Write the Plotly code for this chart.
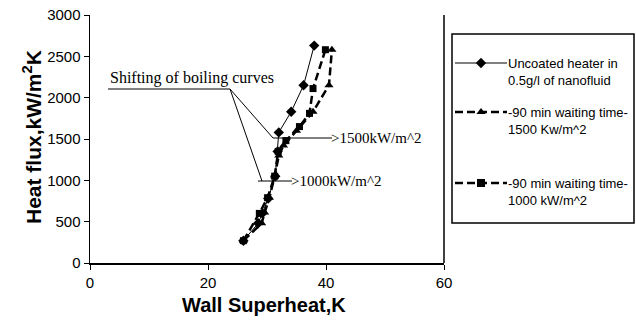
import plotly.graph_objects as go

# ---- data ----
uncoated_x = [26.0, 28.5, 29.2, 30.2, 31.4, 31.8, 32.0, 34.1, 36.2, 38.0]
uncoated_y = [270, 480, 600, 780, 1050, 1350, 1580, 1830, 2150, 2630]

wait1500_x = [26.0, 29.1, 29.6, 30.4, 31.3, 32.0, 32.8, 35.0, 37.8, 40.5, 41.0]
wait1500_y = [270, 480, 610, 790, 1050, 1300, 1420, 1600, 1830, 2150, 2580]

wait1000_x = [26.0, 28.7, 30.1, 31.3, 31.9, 33.2, 35.5, 37.2, 37.8, 39.9]
wait1000_y = [270, 600, 790, 1050, 1350, 1480, 1650, 1810, 2110, 2580]

x_ticks = [0, 20, 40, 60]
y_ticks = [0, 500, 1000, 1500, 2000, 2500, 3000]

legend_names = ["Uncoated heater in<br>0.5g/l of nanofluid",
                "-90 min waiting time-<br>1500 Kw/m^2",
                "-90 min waiting time-<br>1000 kW/m^2"]

# body margin is removed by the post script, so figure pixels == window pixels
W, H = 636, 322
PX0, PX1 = 90, 444      # plot area in pixels
PY0, PY1 = 15, 263

fig = go.Figure()

fig.add_trace(go.Scatter(x=uncoated_x, y=uncoated_y, mode="lines+markers",
                         line=dict(color="black", width=1),
                         marker=dict(symbol="diamond", size=8, color="black"),
                         showlegend=False))
fig.add_trace(go.Scatter(x=wait1500_x, y=wait1500_y, mode="lines+markers",
                         line=dict(color="black", width=2.5, dash="8px,4px"),
                         marker=dict(symbol="triangle-up", size=8, color="black"),
                         showlegend=False))
fig.add_trace(go.Scatter(x=wait1000_x, y=wait1000_y, mode="lines+markers",
                         line=dict(color="black", width=2.5, dash="8px,4px"),
                         marker=dict(symbol="square", size=7, color="black"),
                         showlegend=False))

# ---- legend samples on full-page pixel axes ----
leg_y = [63, 112, 183]
leg_sym = ["diamond", "triangle-up", "square"]
leg_w = [1, 2.5, 2.5]
leg_dash = ["solid", "8px,4px", "8px,4px"]
for i in range(3):
    fig.add_trace(go.Scatter(x=[455, 481, 507], y=[leg_y[i]] * 3, xaxis="x2", yaxis="y2",
                             mode="lines", line=dict(color="black", width=leg_w[i], dash=leg_dash[i]),
                             showlegend=False, hoverinfo="skip"))
    fig.add_trace(go.Scatter(x=[481], y=[leg_y[i]], xaxis="x2", yaxis="y2",
                             mode="markers", marker=dict(symbol=leg_sym[i], size=8, color="black"),
                             showlegend=False, hoverinfo="skip"))

shapes = []
# legend box
shapes.append(dict(type="rect", xref="x2", yref="y2", x0=452, x1=634, y0=34, y1=223,
                   line=dict(color="black", width=1.5), fillcolor="rgba(0,0,0,0)"))
# plot right border
shapes.append(dict(type="line", xref="x2", yref="y2", x0=PX1, x1=PX1, y0=PY0, y1=PY1,
                   line=dict(color="black", width=1.5)))
# annotation lines
for (x0, y0, x1, y1) in [(108, 89, 230, 89), (230, 89, 273, 138), (230, 89, 262, 181),
                         (273, 138, 332, 138), (258, 181, 292, 181)]:
    shapes.append(dict(type="line", xref="x2", yref="y2", x0=x0, y0=y0, x1=x1, y1=y1,
                       line=dict(color="black", width=1)))

annotations = []
for i, name in enumerate(legend_names):
    annotations.append(dict(xref="x2", yref="y2", x=506, y=leg_y[i] + 9, text=name,
                            showarrow=False, xanchor="left", yanchor="middle", align="left",
                            font=dict(family="Liberation Sans, Arial", size=13, color="black")))
annotations.append(dict(xref="x2", yref="y2", x=108, y=78, text="Shifting of boiling curves",
                        showarrow=False, xanchor="left", yanchor="middle",
                        font=dict(family="Liberation Serif, Times New Roman", size=16, color="black")))
annotations.append(dict(xref="x2", yref="y2", x=329, y=138, text=">1500kW/m^2",
                        showarrow=False, xanchor="left", yanchor="middle",
                        font=dict(family="Liberation Serif, Times New Roman", size=15, color="black")))
annotations.append(dict(xref="x2", yref="y2", x=289, y=181, text=">1000kW/m^2",
                        showarrow=False, xanchor="left", yanchor="middle",
                        font=dict(family="Liberation Serif, Times New Roman", size=15, color="black")))
annotations.append(dict(xref="x2", yref="y2", x=264, y=305, text="<b>Wall Superheat,K</b>",
                        showarrow=False, xanchor="center", yanchor="middle",
                        font=dict(family="Liberation Sans, Arial", size=20, color="black")))
annotations.append(dict(xref="x2", yref="y2", x=32, y=137, text="<b>Heat flux,kW/m<sup>2</sup>K</b>",
                        showarrow=False, xanchor="center", yanchor="middle", textangle=-90,
                        font=dict(family="Liberation Sans, Arial", size=21, color="black")))

fig.update_layout(
    width=W, height=H,
    margin=dict(l=0, r=0, t=0, b=0, pad=0, autoexpand=False),
    paper_bgcolor="white", plot_bgcolor="rgba(0,0,0,0)",
    hovermode=False,
    xaxis=dict(domain=[PX0 / W, PX1 / W], range=[0, 60], tickvals=x_ticks, automargin=False,
               ticklabeloverflow="allow",
               showline=True, linecolor="black", linewidth=1.5, ticks="outside", ticklen=5,
               tickcolor="black", showgrid=False, zeroline=False,
               tickfont=dict(family="Liberation Sans, Arial", size=15, color="black")),
    yaxis=dict(domain=[(H - PY1) / H, (H - PY0) / H], range=[0, 3000], tickvals=y_ticks,
               automargin=False, ticklabeloverflow="allow",
               showline=True, linecolor="black", linewidth=1.5, ticks="outside", ticklen=5,
               tickcolor="black", showgrid=False, zeroline=False,
               tickfont=dict(family="Liberation Sans, Arial", size=15, color="black")),
    xaxis2=dict(domain=[0, 1], range=[0, W], visible=False, anchor="y2", automargin=False),
    yaxis2=dict(domain=[0, 1], range=[H, 0], visible=False, anchor="x2", automargin=False),
    shapes=shapes, annotations=annotations,
)

fig.write_html("out.html", config={"displayModeBar": False, "staticPlot": True},
               post_script="document.body.style.margin='0px';document.body.style.overflow='hidden';")
